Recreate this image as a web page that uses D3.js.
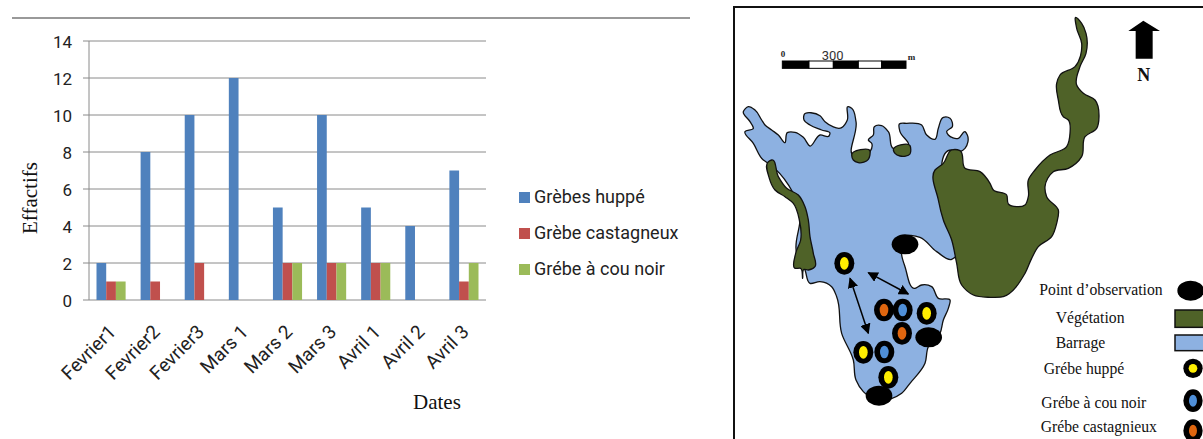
<!DOCTYPE html>
<html><head><meta charset="utf-8">
<script src="https://cdnjs.cloudflare.com/ajax/libs/d3/7.8.5/d3.min.js"></script>
<style>html,body{margin:0;padding:0;background:#fff;overflow:hidden}svg{display:block}</style>
</head><body><div id="chart"></div>
<script>
const dates = ["Fevrier1","Fevrier2","Fevrier3","Mars 1","Mars 2","Mars 3","Avril 1","Avril 2","Avril 3"];
const seriesNames = ["Grèbes huppé","Grèbe castagneux","Grébe à cou noir"];
const seriesColors = ["#4f81bd","#c0504d","#9bbb59"];
const huppe = [2,8,10,12,5,10,5,4,7];
const castagneux = [1,1,2,0,2,2,2,0,1];
const couNoir = [1,0,0,0,2,2,2,0,2];
const yTicks = [0,2,4,6,8,10,12,14];

// Map geometry, in map units (1 unit = 1/3 px)
const lakeOutline = [[40,335],[55,320],[75,330],[95,360],[105,375],[125,390],[145,405],[165,428],[172,398],[195,397],[220,412],[240,438],[270,405],[297,408],[300,400],[275,390],[240,375],[222,360],[222,345],[270,347],[285,365],[335,383],[352,360],[355,320],[365,325],[378,365],[370,465],[420,455],[425,430],[415,420],[430,405],[433,380],[455,377],[475,395],[490,445],[510,445],[535,435],[510,395],[508,372],[530,370],[575,375],[590,405],[615,418],[625,385],[640,352],[660,355],[667,380],[650,395],[655,405],[685,415],[705,395],[712,405],[705,445],[690,455],[665,450],[640,600],[660,680],[685,760],[665,778],[620,755],[570,712],[520,710],[515,765],[525,800],[555,865],[575,855],[605,860],[625,895],[660,900],[655,925],[640,960],[630,1000],[595,1040],[585,1090],[540,1150],[515,1180],[440,1200],[400,1175],[378,1140],[370,1080],[335,1000],[320,890],[305,860],[270,845],[240,850],[225,810],[200,760],[210,640],[115,490],[100,480],[70,430],[45,395],[70,385],[60,365]];
const vegWest = [[115,485],[125,480],[145,530],[170,565],[205,585],[225,620],[235,660],[240,710],[250,760],[255,800],[235,810],[222,808],[218,835],[212,805],[195,805],[197,760],[212,720],[208,660],[190,610],[165,590],[135,570],[118,535]];
const vegN1 = [[365,465],[420,453],[415,478],[385,488],[370,480]];
const vegN2 = [[490,450],[540,437],[540,462],[510,468],[495,460]];
const vegEast = [[1037,52],[1055,70],[1068,100],[1068,160],[1050,200],[1040,255],[1060,280],[1095,300],[1107,350],[1100,385],[1065,410],[1055,470],[1015,505],[970,515],[945,560],[950,590],[985,630],[980,670],[965,710],[925,740],[905,775],[885,820],[820,890],[780,892],[730,885],[695,855],[680,790],[665,720],[640,660],[625,600],[615,510],[640,490],[665,450],[690,452],[705,505],[750,515],[780,550],[790,570],[830,585],[835,612],[860,620],[885,615],[895,590],[895,540],[915,510],[960,465],[1010,440],[1020,400],[1015,360],[1000,350],[985,300],[980,250],[990,225],[1035,200],[1055,130],[1040,85]];
const observation = [[525,733],[596,1012],[447,1187],[1382,872]];
const birdsYellow = [[343,790],[590,940],[400,1057],[475,1132]];
const birdsBlue = [[518,930],[463,1056]];
const birdsOrange = [[462,930],[516,1000]];
const arrows = [[[360,835],[415,1000]],[[415,818],[535,882]]];
const scaleSegments = [[157,237,"#000"],[237,310,"#fff"],[310,385,"#000"],[385,455,"#fff"],[455,528,"#000"]];
const northArrow = [[1217,176],[1217,93],[1195,93],[1240,62],[1290,93],[1268,93],[1268,176]];
const mapLegendText = [["Point d’observation",928,885],["Végétation",977,968],["Barrage",977,1045],["Grébe huppé",941,1122],["Grébe à cou noir",934,1225],["Grébe castagnieux",932,1295]];
const legendBirds = [[1389,1105,"#ffee00",29,29,13,13],[1389,1202,"#4f8fd8",29,34,12,18],[1389,1292,"#e0660f",29,34,12,18]];

const svg = d3.select("#chart").append("svg").attr("width",1203).attr("height",439);
const sans = "Roboto, 'Noto Sans', sans-serif", serif = "'Liberation Serif', serif";

svg.append("line").attr("x1",12).attr("x2",690).attr("y1",18).attr("y2",18).attr("stroke","#777").attr("stroke-width",1.6);

// ---- Bar chart
const x = d3.scaleBand().domain(dates).range([89,486]).paddingInner(0.34).paddingOuter(0.17);
const inner = d3.scaleBand().domain(d3.range(3)).range([0,x.bandwidth()]);
const y = d3.scaleLinear().domain([0,14]).range([300,41]);

svg.append("g").selectAll("line").data(yTicks).join("line")
  .attr("x1",83).attr("x2",486).attr("y1",d=>y(d)).attr("y2",d=>y(d))
  .attr("stroke","#8a8a8a").attr("stroke-width",1);
svg.append("line").attr("x1",89).attr("x2",89).attr("y1",41).attr("y2",300).attr("stroke","#8a8a8a");
svg.append("g").selectAll("text").data(yTicks).join("text")
  .attr("x",72).attr("y",d=>y(d)+6.5).attr("text-anchor","end")
  .attr("font-family",sans).attr("font-size",17).attr("fill","#222").text(d=>d);

[huppe,castagneux,couNoir].forEach((vals,i)=>{
  svg.append("g").selectAll("rect").data(vals).join("rect")
    .attr("x",(d,j)=>x(dates[j])+inner(i)).attr("width",inner.bandwidth())
    .attr("y",d=>y(d)).attr("height",d=>y(0)-y(d)).attr("fill",seriesColors[i]);
});

svg.append("g").selectAll("text").data(dates).join("text")
  .attr("transform",d=>`translate(${x(d)+x.bandwidth()/2+6},${333}) rotate(-45)`)
  .attr("text-anchor","end").attr("font-family",sans).attr("font-size",19).attr("fill","#222").text(d=>d);

svg.append("text").attr("transform","translate(37,198) rotate(-90)").attr("text-anchor","middle")
  .attr("font-family",serif).attr("font-size",21).attr("fill","#111").text("Effactifs");
svg.append("text").attr("x",413).attr("y",409).attr("font-family",serif).attr("font-size",21).attr("fill","#111").text("Dates");

const lg = svg.append("g").selectAll("g").data(seriesNames).join("g");
lg.append("rect").attr("x",519).attr("y",(d,i)=>192+i*36).attr("width",11).attr("height",11).attr("fill",(d,i)=>seriesColors[i]);
lg.append("text").attr("x",534).attr("y",(d,i)=>203+i*36).attr("font-family",sans).attr("font-size",18).attr("fill","#222").text(d=>d);

// ---- Map
const mx = d3.scaleLinear().domain([0,3]).range([730,731]);
const my = d3.scaleLinear().domain([0,3]).range([0,1]);
const mr = v=>v/3;
const outline = d3.line().x(d=>mx(d[0])).y(d=>my(d[1])).curve(d3.curveCatmullRomClosed.alpha(1));

svg.append("path").attr("d",`M734,439V7H1203`).attr("fill","none").attr("stroke","#111").attr("stroke-width",2);
svg.append("path").attr("d",outline(lakeOutline)).attr("fill","#8db1e1").attr("stroke","#111").attr("stroke-width",1.3);
[vegWest,vegN1,vegN2,vegEast].forEach(p=>svg.append("path").attr("d",outline(p)).attr("fill","#4f6228").attr("stroke","#111").attr("stroke-width",1.3));

svg.append("defs").append("marker").attr("id","ah").attr("viewBox","0 0 10 10").attr("refX",9).attr("refY",5)
  .attr("markerWidth",7).attr("markerHeight",7).attr("orient","auto-start-reverse")
  .append("path").attr("d","M0,0L10,5L0,10Z").attr("fill","#000");
svg.append("g").selectAll("line").data(arrows).join("line")
  .attr("x1",d=>mx(d[0][0])).attr("y1",d=>my(d[0][1])).attr("x2",d=>mx(d[1][0])).attr("y2",d=>my(d[1][1]))
  .attr("stroke","#000").attr("stroke-width",1.5).attr("marker-start","url(#ah)").attr("marker-end","url(#ah)");

svg.append("g").selectAll("ellipse").data(observation).join("ellipse")
  .attr("cx",d=>mx(d[0])).attr("cy",d=>my(d[1])).attr("rx",mr(40)).attr("ry",mr(30)).attr("fill","#000");

function birds(data,color){
  const g = svg.append("g").selectAll("g").data(data).join("g");
  g.append("ellipse").attr("cx",d=>mx(d[0])).attr("cy",d=>my(d[1])).attr("rx",mr(30)).attr("ry",mr(34)).attr("fill","#000");
  g.append("ellipse").attr("cx",d=>mx(d[0])).attr("cy",d=>my(d[1])).attr("rx",mr(13)).attr("ry",mr(19)).attr("fill",color);
}
birds(birdsYellow,"#ffee00"); birds(birdsBlue,"#4f8fd8"); birds(birdsOrange,"#e0660f");

// Scale bar and north arrow
svg.append("g").selectAll("rect").data(scaleSegments).join("rect")
  .attr("x",d=>mx(d[0])).attr("width",d=>mr(d[1]-d[0])).attr("y",my(183)).attr("height",mr(22))
  .attr("fill",d=>d[2]).attr("stroke","#000").attr("stroke-width",1);
svg.append("text").attr("x",mx(152)).attr("y",my(170)).attr("font-family",serif).attr("font-weight","bold").attr("font-size",9).attr("fill","#222").text("0");
svg.append("text").attr("x",mx(308)).attr("y",my(181)).attr("text-anchor","middle").attr("font-family",sans).attr("font-size",13).attr("fill","#333").text("300");
svg.append("text").attr("x",mx(533)).attr("y",my(179)).attr("font-family",serif).attr("font-weight","bold").attr("font-size",9).attr("fill","#222").text("m");
svg.append("path").attr("d",d3.line().x(d=>mx(d[0])).y(d=>my(d[1])).curve(d3.curveLinearClosed)(northArrow)).attr("fill","#000");
svg.append("text").attr("x",mx(1241)).attr("y",my(243)).attr("text-anchor","middle").attr("font-family",serif).attr("font-weight","bold").attr("font-size",18).attr("fill","#111").text("N");

// Map legend
svg.append("g").selectAll("text").data(mapLegendText).join("text")
  .attr("x",d=>mx(d[1])).attr("y",d=>my(d[2])).attr("font-family",serif).attr("font-size",15.7).attr("fill","#111").text(d=>d[0]);
svg.append("rect").attr("x",mx(1335)).attr("y",my(930)).attr("width",40).attr("height",mr(52)).attr("fill","#4f6228").attr("stroke","#111").attr("stroke-width",1.5);
svg.append("rect").attr("x",mx(1335)).attr("y",my(1005)).attr("width",40).attr("height",mr(47)).attr("fill","#8db1e1").attr("stroke","#111").attr("stroke-width",1.5);
const lb = svg.append("g").selectAll("g").data(legendBirds).join("g");
lb.append("ellipse").attr("cx",d=>mx(d[0])).attr("cy",d=>my(d[1])).attr("rx",d=>mr(d[3])).attr("ry",d=>mr(d[4])).attr("fill","#000");
lb.append("ellipse").attr("cx",d=>mx(d[0])).attr("cy",d=>my(d[1])).attr("rx",d=>mr(d[5])).attr("ry",d=>mr(d[6])).attr("fill",d=>d[2]);
</script></body></html>
